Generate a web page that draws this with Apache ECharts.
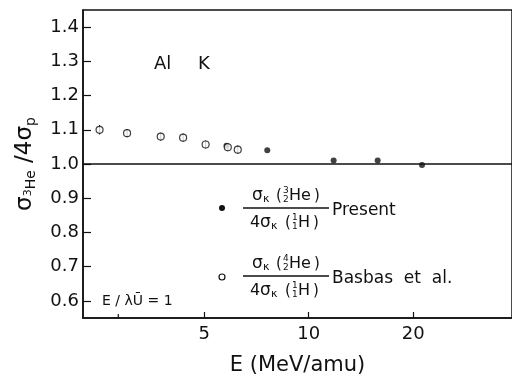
<!DOCTYPE html>
<html>
<head>
<meta charset="utf-8">
<script src="https://cdn.jsdelivr.net/npm/echarts@6/dist/echarts.min.js"></script>
<style>
html, body { margin: 0; padding: 0; background: #fff; }
#chart_1 { width: 512px; height: 381px; }
</style>
</head>
<body>
<div id="chart_1"></div>
<script>
// present work (3He), filled dots
var presentE = [5.8, 7.6, 11.8, 15.8, 21.2];
var presentR = [1.053, 1.04, 1.01, 1.01, 0.997];
// Basbas et al. (4He), open circles with error bars
var basbasE = [2.5, 3.0, 3.75, 4.35, 5.05, 5.85, 6.25];
var basbasR = [1.10, 1.09, 1.08, 1.077, 1.057, 1.049, 1.042];
var basbasErr = [0.014, 0.012, 0.011, 0.012, 0.012, 0.012, 0.012];
// axis ticks
var xTicks = [5, 10, 20];
var yTicks = [0.6, 0.7, 0.8, 0.9, 1.0, 1.1, 1.2, 1.3, 1.4];
// E / lambda U = 1
var adiabaticE = 2.83;

var FONT = 'DejaVu Sans';
var INK = '#111';

function txt(s, x, y, size, align) {
	return {
		type: 'text', x: x, y: y, silent: true,
		style: { text: s, fontFamily: FONT, fontSize: size, fill: INK, align: align || 'left', verticalAlign: 'middle' }
	};
}

// one of the legend fractions: sigma_K(A Z He) / 4 sigma_K(1 1 H)
function fraction(x0, y0, topA, topZ) {
	return {
		type: 'group', x: x0, y: y0, silent: true,
		children: [
			{ type: 'line', shape: { x1: 0, y1: 0, x2: 86, y2: 0 }, style: { stroke: INK, lineWidth: 1.3 } },
			txt('σ', 9, -12, 17),
			txt('κ', 20, -9, 11),
			txt('(', 33, -12, 15),
			txt(topA, 40, -17, 9),
			txt(topZ, 40, -8, 9),
			txt('He', 46, -12, 16),
			txt(')', 71, -12, 15),
			txt('4', 7, 15, 16),
			txt('σ', 17, 15, 17),
			txt('κ', 28, 18, 11),
			txt('(', 42, 15, 15),
			txt('1', 49, 10, 9),
			txt('1', 49, 19, 9),
			txt('H', 55, 15, 16),
			txt(')', 70, 15, 15)
		]
	};
}

function makeChart() {
	var myChart = echarts.init($id('chart_1'));
	var presentData = presentE.map(function (e, i) { return [e, presentR[i]]; });
	var basbasData = basbasE.map(function (e, i) { return [e, basbasR[i]]; });
	var errData = basbasE.map(function (e, i) { return [e, basbasR[i] - basbasErr[i], basbasR[i] + basbasErr[i]]; });

	var option = {
		backgroundColor: '#fff',
		animation: false,
		grid: { left: 83, top: 10, right: -4, bottom: 56, show: true, borderColor: INK, borderWidth: 1.5 },
		xAxis: {
			type: 'log', logBase: 10, min: 2.24, max: 38.5,
			name: 'E (MeV/amu)', nameLocation: 'middle', nameGap: 37,
			nameTextStyle: { fontFamily: FONT, fontSize: 21, color: INK },
			axisLine: { show: true, lineStyle: { color: INK, width: 1.5 } },
			axisTick: { show: true, inside: true, length: 6, customValues: xTicks, lineStyle: { color: INK, width: 1.2 } },
			minorTick: { show: false },
			axisLabel: { customValues: xTicks, fontFamily: FONT, fontSize: 18, color: INK, margin: 7, formatter: function (v) { return String(Math.round(v)); } },
			splitLine: { show: false }, minorSplitLine: { show: false }
		},
		yAxis: {
			type: 'value', min: 0.55, max: 1.45,
			name: '{s|σ}{t|3}{b|He}{s| /4σ}{b|p}', nameLocation: 'middle', nameGap: 45, nameRotate: 90,
			nameTextStyle: {
				rich: {
					s: { fontFamily: FONT, fontSize: 23, color: INK },
					t: { fontFamily: FONT, fontSize: 11, color: INK, padding: [6, 0, 0, 0] },
					b: { fontFamily: FONT, fontSize: 14, color: INK, padding: [12, 0, 0, 0] }
				}
			},
			axisLine: { show: true, lineStyle: { color: INK, width: 1.5 } },
			axisTick: { show: true, inside: true, length: 8, customValues: yTicks, lineStyle: { color: INK, width: 1.2 } },
			axisLabel: { customValues: yTicks, fontFamily: FONT, fontSize: 18, color: INK, margin: 4, formatter: function (v) { return v.toFixed(1); } },
			splitLine: { show: false }
		},
		series: [{
			name: 'Present',
			type: 'scatter',
			data: presentData,
			symbol: 'circle',
			symbolSize: 6,
			itemStyle: { color: INK },
			markLine: {
				silent: true, symbol: 'none', label: { show: false },
				lineStyle: { color: INK, type: 'solid', width: 1.5 },
				data: [{ yAxis: 1.0 }]
			}
		}, {
			name: 'errors',
			type: 'custom',
			data: errData,
			renderItem: function (params, api) {
				var p1 = api.coord([api.value(0), api.value(1)]);
				var p2 = api.coord([api.value(0), api.value(2)]);
				return { type: 'line', shape: { x1: p1[0], y1: p1[1], x2: p2[0], y2: p2[1] }, style: { stroke: INK, lineWidth: 1.1 } };
			},
			z: 2
		}, {
			name: 'Basbas et al.',
			type: 'scatter',
			data: basbasData,
			symbol: 'circle',
			symbolSize: 7,
			itemStyle: { color: '#fff', borderColor: INK, borderWidth: 1.2 },
			z: 3
		}, {
			name: 'adiabatic',
			type: 'custom',
			data: [[adiabaticE, 0.55]],
			renderItem: function (params, api) {
				var p = api.coord([api.value(0), api.value(1)]);
				return { type: 'line', shape: { x1: p[0], y1: p[1], x2: p[0], y2: p[1] - 4 }, style: { stroke: INK, lineWidth: 1.2 } };
			}
		}],
		graphic: [
			txt('Al', 154, 64, 18),
			txt('K', 198, 64, 18),
			txt('E / λŪ = 1', 102, 301, 14),
			{ type: 'circle', shape: { cx: 222, cy: 208, r: 3 }, style: { fill: INK }, silent: true },
			{ type: 'circle', shape: { cx: 222, cy: 277, r: 3 }, style: { fill: '#fff', stroke: INK, lineWidth: 1.2 }, silent: true },
			fraction(243, 208, '3', '2'),
			txt('Present', 332, 211, 17),
			fraction(243, 276, '4', '2'),
			txt('Basbas  et  al.', 332, 279, 17)
		]
	};
	myChart.setOption(option);
}

function $id(id) { return document.getElementById(id); }
makeChart();
</script>
</body>
</html>
